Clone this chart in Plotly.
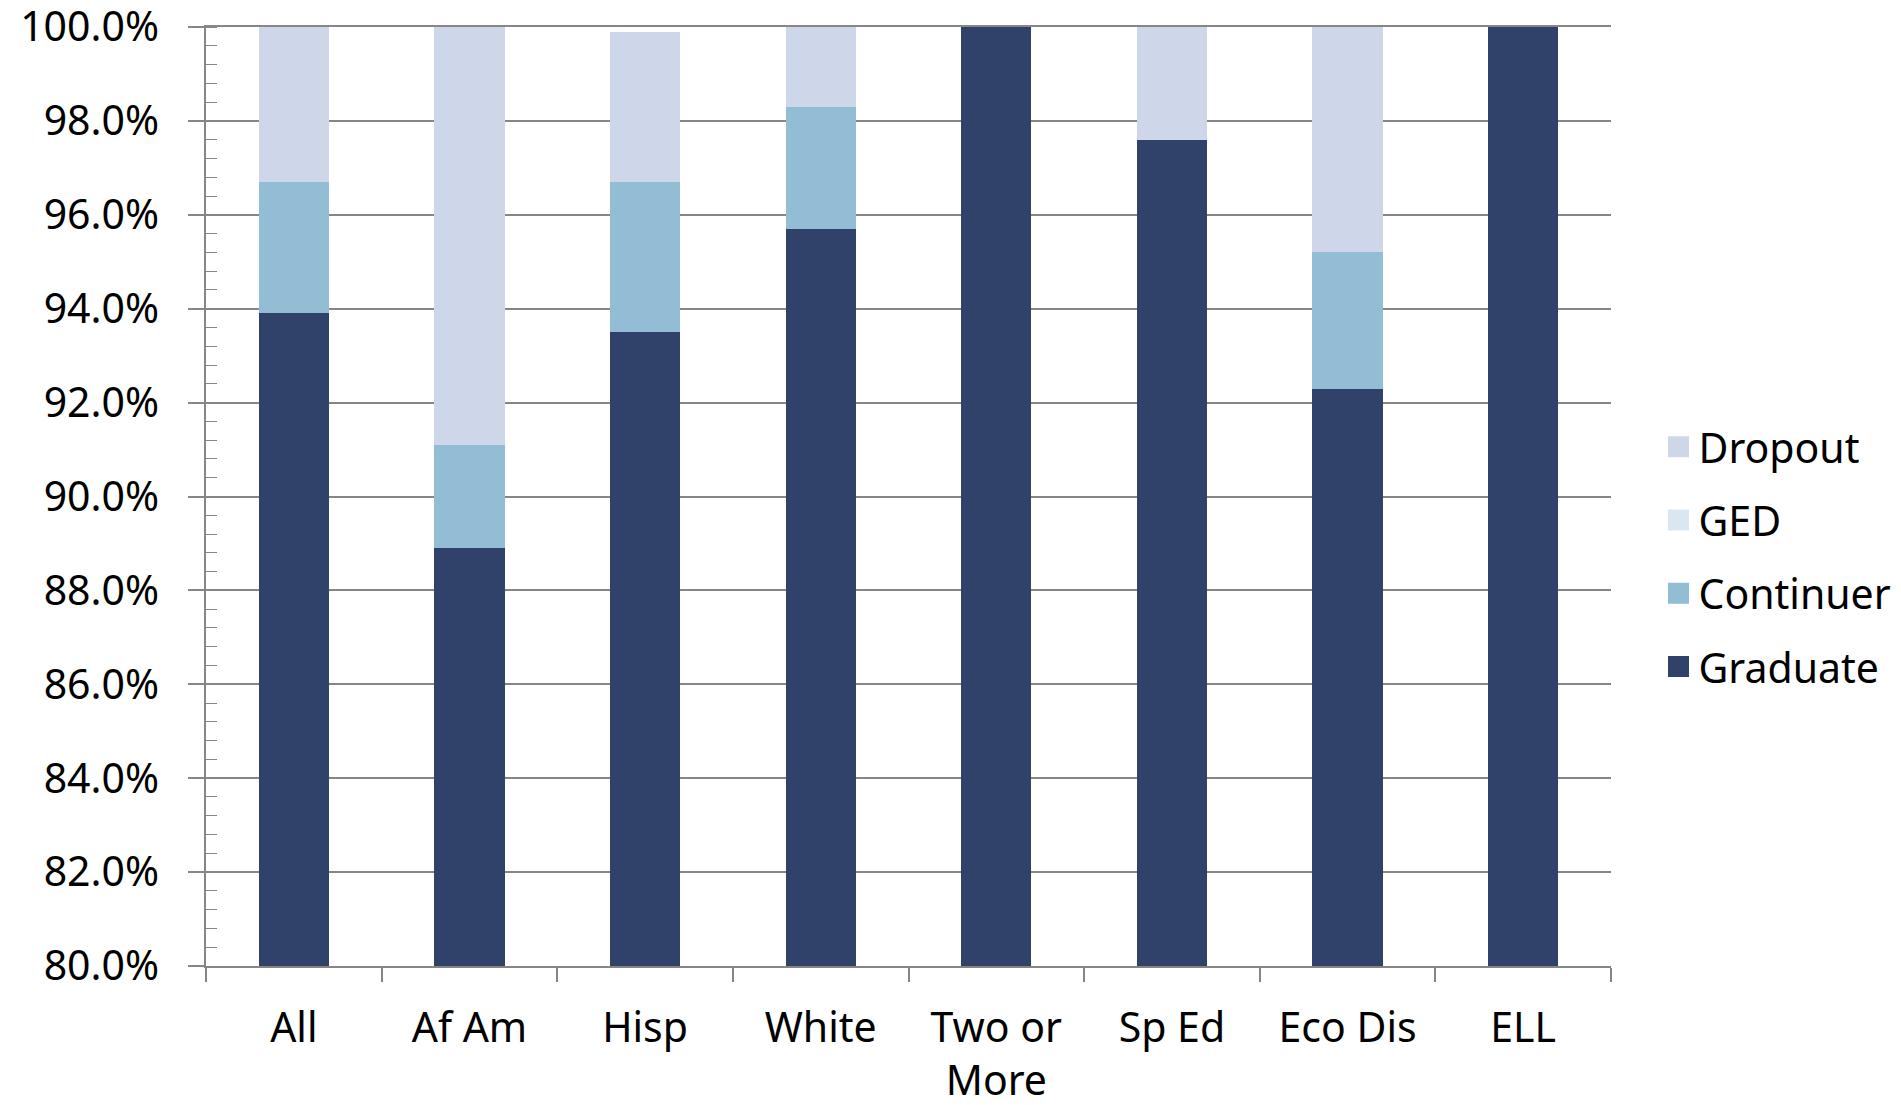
import plotly.graph_objects as go

categories = ["All", "Af Am", "Hisp", "White", "Two or<br>More", "Sp Ed", "Eco Dis", "ELL"]
graduate = [93.9, 88.9, 93.5, 95.7, 100.0, 97.6, 92.3, 100.0]
continuer = [2.8, 2.2, 3.2, 2.6, 0.0, 0.0, 2.9, 0.0]
ged = [0.0, 0.0, 0.0, 0.0, 0.0, 0.0, 0.0, 0.0]
dropout = [3.3, 8.9, 3.2, 1.7, 0.0, 2.4, 4.8, 0.0]
y_ticks = [80, 82, 84, 86, 88, 90, 92, 94, 96, 98, 100]
y_tick_labels = ["80.0%", "82.0%", "84.0%", "86.0%", "88.0%", "90.0%",
                 "92.0%", "94.0%", "96.0%", "98.0%", "100.0%"]

series = [
    ("Graduate", graduate, "#31426A"),
    ("Continuer", continuer, "#93BDD5"),
    ("GED", ged, "#D9E7F3"),
    ("Dropout", dropout, "#CED6E9"),
]

FONT = "Noto Sans"
GRID = "#868686"

fig = go.Figure()
for name, vals, color in series:
    fig.add_trace(go.Bar(
        x=categories, y=vals, name=name, showlegend=False,
        marker=dict(color=color, line=dict(width=0)),
    ))
# legend entries (square swatches), listed top to bottom
for name, vals, color in reversed(series):
    fig.add_trace(go.Scatter(
        x=[None], y=[None], mode="markers", name=name, legendgroup=name,
        marker=dict(symbol="square", size=16, color=color,
                    line=dict(width=5, color=color)),
    ))

fig.update_layout(
    barmode="stack",
    bargap=0.6,
    width=1885, height=1089,
    margin=dict(l=198, r=282, t=19, b=131),
    paper_bgcolor="white", plot_bgcolor="white",
    font=dict(family=FONT, size=41, color="black"),
    showlegend=True,
    legend=dict(
        traceorder="grouped",
        tracegroupgap=17,
        itemsizing="trace",
        xref="container", yref="container",
        x=0.8756, xanchor="left",
        y=1 - (557 - 8) / 1089, yanchor="middle",
        font=dict(family=FONT, size=41, color="black"),
        bgcolor="rgba(0,0,0,0)",
    ),
)

fig.update_xaxes(
    automargin=False,
    showline=True, mirror=True, linecolor=GRID, linewidth=1.5,
    ticks="outside", tickson="boundaries", ticklen=14, tickcolor=GRID, tickwidth=1.5,
    showgrid=False,
    ticklabelstandoff=25,
    tickfont=dict(family=FONT, size=41, color="black"),
)

fig.update_yaxes(
    automargin=False,
    range=[80, 100],
    tickmode="array", tickvals=y_ticks, ticktext=y_tick_labels,
    ticklabeloverflow="allow",
    showline=True, linecolor=GRID, linewidth=1.5,
    showgrid=True, gridcolor=GRID, gridwidth=1.5,
    zeroline=False,
    ticks="outside", ticklen=16, tickcolor=GRID, tickwidth=1.5,
    minor=dict(dtick=0.4, tick0=80, ticks="inside", ticklen=11, tickcolor=GRID, tickwidth=1.3, showgrid=False),
    ticklabelstandoff=21,
    tickfont=dict(family=FONT, size=41, color="black"),
)

fig.write_html("out.html")
